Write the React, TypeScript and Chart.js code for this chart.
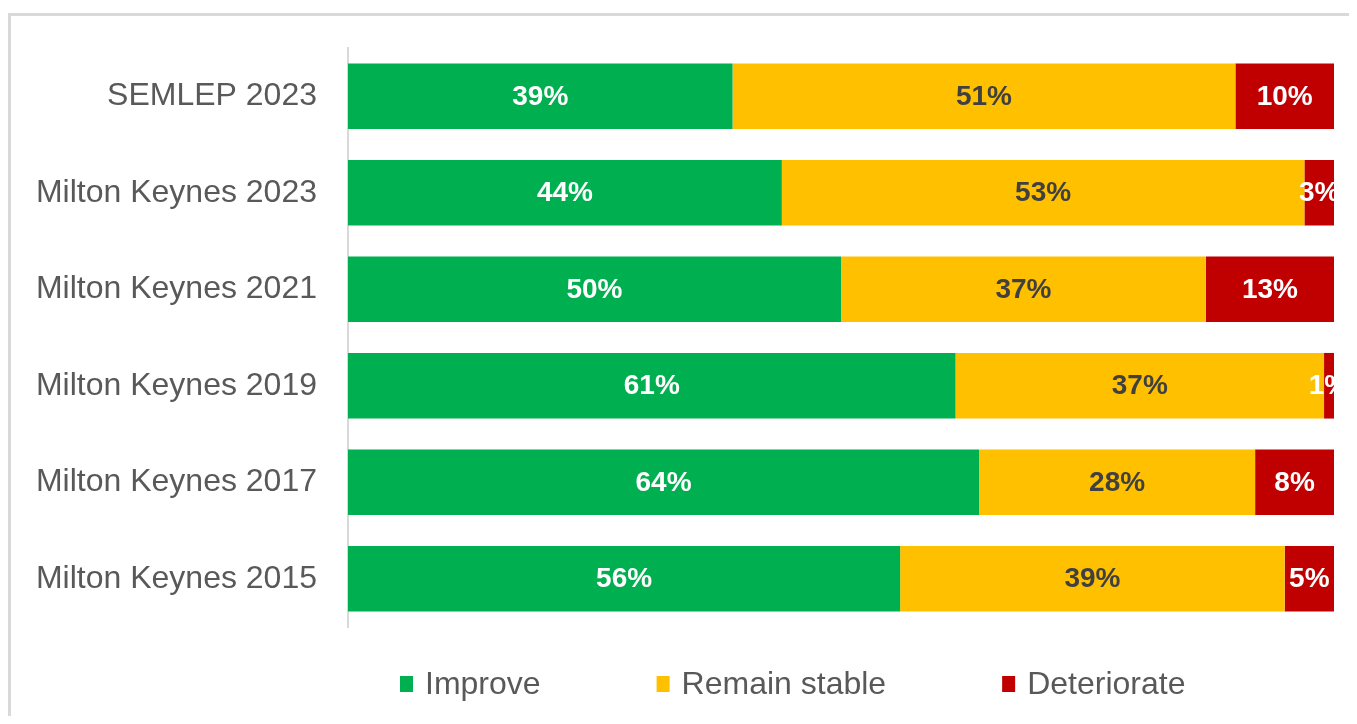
import React, { useEffect, useRef } from "react";
import { Chart, registerables } from "chart.js";

Chart.register(...registerables);

const categories = [
  "SEMLEP 2023",
  "Milton Keynes 2023",
  "Milton Keynes 2021",
  "Milton Keynes 2019",
  "Milton Keynes 2017",
  "Milton Keynes 2015",
];
const seriesNames = ["Improve", "Remain stable", "Deteriorate"];
const improve = [39, 44, 50, 61, 64, 56];
const remainStable = [51, 53, 37, 37, 28, 39];
const deteriorate = [10, 3, 13, 1, 8, 5];

const seriesValues = [improve, remainStable, deteriorate];
const seriesColors = ["#00B050", "#FFC000", "#C00000"];
const labelColors = ["#FFFFFF", "#404040", "#FFFFFF"];
const FONT = '"Liberation Sans", Arial, Helvetica, sans-serif';

// 100% stacked: each bar scaled to its total
const totals = categories.map((_, i) =>
  seriesValues.reduce((s, arr) => s + arr[i], 0)
);
const shares = seriesValues.map((arr) => arr.map((v, i) => (v / totals[i]) * 100));

const dataLabelPlugin = {
  id: "dataLabels",
  afterDatasetsDraw(chart: any) {
    const ctx = chart.ctx;
    const a = chart.chartArea;
    ctx.save();
    ctx.beginPath();
    ctx.rect(a.left, a.top, a.right - a.left, a.bottom - a.top);
    ctx.clip();
    ctx.font = `bold 28px ${FONT}`;
    ctx.textAlign = "center";
    ctx.textBaseline = "middle";
    chart.data.datasets.forEach((ds: any, di: number) => {
      const meta = chart.getDatasetMeta(di);
      meta.data.forEach((el: any, i: number) => {
        const p = el.getProps(["x", "y", "base"], true);
        ctx.fillStyle = labelColors[di];
        ctx.fillText(`${seriesValues[di][i]}%`, (p.x + p.base) / 2, p.y + 1);
      });
    });
    ctx.restore();
  },
};

const legendPlugin = {
  id: "customLegend",
  afterDraw(chart: any) {
    const ctx = chart.ctx;
    const a = chart.chartArea;
    ctx.save();
    ctx.font = `32px ${FONT}`;
    ctx.textBaseline = "middle";
    ctx.textAlign = "left";
    let x = a.left + 52;
    const y = a.bottom + 57;
    chart.data.datasets.forEach((ds: any) => {
      ctx.fillStyle = ds.backgroundColor;
      ctx.fillRect(x, y - 8, 13, 16);
      x += 13 + 12;
      ctx.fillStyle = "#595959";
      ctx.fillText(ds.label, x, y + 1);
      x += ctx.measureText(ds.label).width + 116;
    });
    ctx.restore();
  },
};

export default function App() {
  const ref = useRef<HTMLCanvasElement | null>(null);

  useEffect(() => {
    if (!ref.current) return;
    const chart = new Chart(ref.current, {
      type: "bar",
      data: {
        labels: categories,
        datasets: seriesNames.map((name, di) => ({
          label: name,
          data: shares[di],
          backgroundColor: seriesColors[di],
          borderWidth: 0,
          barPercentage: 0.68,
          categoryPercentage: 1,
        })),
      },
      options: {
        indexAxis: "y",
        animation: false,
        responsive: true,
        maintainAspectRatio: false,
        layout: { padding: { top: 32, bottom: 89, left: 0, right: 23 } },
        plugins: {
          legend: { display: false },
          tooltip: { enabled: false },
        },
        scales: {
          x: { stacked: true, min: 0, max: 100, display: false },
          y: {
            stacked: true,
            grid: { display: true, color: "transparent", drawTicks: false },
            border: { display: true, color: "#D9D9D9", width: 2 },
            ticks: {
              color: "#595959",
              font: { family: FONT, size: 32 },
              padding: 31,
            },
            afterFit: (scale: any) => {
              scale.width = 337;
              scale.paddingTop = 0;
              scale.paddingBottom = 0;
            },
          },
        },
      },
      plugins: [dataLabelPlugin, legendPlugin],
    });
    return () => chart.destroy();
  }, []);

  return (
    <div style={{ paddingTop: 5 }}>
      <div
        style={{
          width: 1346,
          marginRight: -8,
          borderTop: "3px solid #D9D9D9",
          borderLeft: "3px solid #D9D9D9",
          height: 700,
          background: "#FFFFFF",
        }}
      >
        <div style={{ position: "relative", width: 1346, height: 700 }}>
          <canvas ref={ref} />
        </div>
      </div>
    </div>
  );
}
